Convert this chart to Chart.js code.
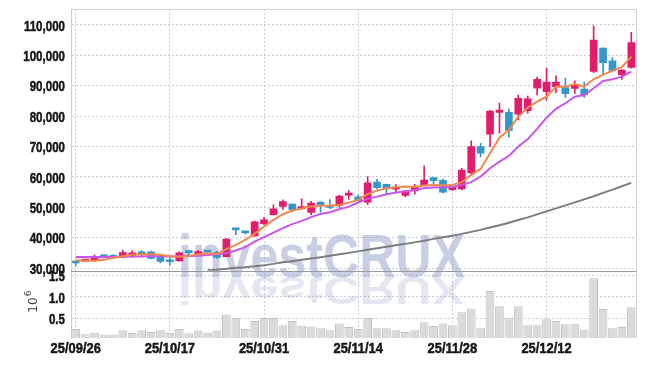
<!DOCTYPE html>
<html>
<head>
<meta charset="utf-8">
<script src="https://cdn.jsdelivr.net/npm/chart.js@4.4.1/dist/chart.umd.min.js"></script>
<style>
  html, body { margin: 0; padding: 0; background: #fff; }
  #wrap { width: 645px; height: 366px; }
</style>
</head>
<body>
<div id="wrap"><canvas id="stockChart" width="645" height="366"></canvas></div>
<script>
// Fechas (días de negociación)
const dates = ['25/09/26','25/09/29','25/09/30','25/10/01','25/10/02','25/10/10','25/10/13','25/10/14','25/10/15','25/10/16',
  '25/10/17','25/10/20','25/10/21','25/10/22','25/10/23','25/10/24','25/10/27','25/10/28','25/10/29','25/10/30',
  '25/10/31','25/11/03','25/11/04','25/11/05','25/11/06','25/11/07','25/11/10','25/11/11','25/11/12','25/11/13',
  '25/11/14','25/11/17','25/11/18','25/11/19','25/11/20','25/11/21','25/11/24','25/11/25','25/11/26','25/11/27',
  '25/11/28','25/12/01','25/12/02','25/12/03','25/12/04','25/12/05','25/12/08','25/12/09','25/12/10','25/12/11',
  '25/12/12','25/12/15','25/12/16','25/12/17','25/12/18','25/12/19','25/12/22','25/12/23','25/12/24','25/12/26'];

const openPrices = [31800,32300,32800,33900,34100,33600,33800,35400,35400,34000,
  32500,32400,35300,34800,35600,35200,33800,43150,42000,40600,
  44600,47600,50300,51100,49600,48300,51700,50600,50600,54000,
  53500,51700,58300,57600,56000,53900,55400,57400,59800,58900,
  55800,56100,61300,70000,74100,81200,81300,80700,81800,89200,
  88100,89700,89400,89100,88900,94700,102400,98200,93600,96000];
const highPrices = [32400,32700,34300,34400,34500,35950,35800,35800,35600,34300,
  33300,35400,35350,35900,35800,35500,39800,43200,42200,45500,
  46700,50800,52450,51200,52800,52000,51800,52600,54000,55500,
  54100,60100,59200,57700,57500,55500,57600,63700,59900,59300,
  57300,62800,71900,71100,81800,84300,82300,86900,86600,92900,
  95800,93300,92500,91600,91200,109700,102500,99300,95300,107600];
const lowPrices = [30800,32100,32300,33300,33300,33400,33500,34100,33000,31700,
  31000,32300,33900,34400,34800,33300,33700,40900,41300,40400,
  44300,47400,49300,48500,49300,47500,48400,49600,50000,52700,
  52000,51000,56000,54100,54700,53400,54300,57200,57200,54700,
  55500,55700,60700,66600,70000,74400,73100,78800,81000,87000,
  85300,87700,86200,87500,86200,94300,93600,94500,92100,95800];
const closePrices = [31700,32500,33600,33750,33600,35100,35000,34500,33200,32200,
  32100,35000,35100,35400,35300,33500,39600,42600,41600,45200,
  45900,49500,51900,49200,50000,51400,50800,50000,53700,54200,
  52200,58100,56500,56100,56700,55400,56600,59000,58800,55000,
  56800,62300,70000,67800,81700,82000,75300,85900,85700,92100,
  91200,91200,87400,90500,87000,105000,97600,94900,95200,104200];

// Medias móviles
const ma5 = [32560,32400,32400,32730,33390,33880,34370,34540,34540,34370,
  33880,33720,34040,34540,34870,34700,36250,37660,39300,41280,
  43680,45880,47750,48940,49600,50250,50490,50580,50810,51570,
  52460,54330,55520,56300,56630,56830,56730,57160,57390,57160,
  57390,58280,60680,62650,67810,72900,75470,79850,82800,84780,
  86420,89710,89710,90600,89710,92140,93560,94970,96090,99580];
const ma10 = [33700,33700,33650,33650,33700,33750,33800,33850,33900,33900,
  33850,33900,34000,34100,34300,34600,34930,35790,36900,38750,
  40190,41700,43150,44470,45550,46770,47850,48410,49400,50250,
  51600,52790,53540,54330,54860,55190,55740,56300,56500,56630,
  56730,57390,58280,60120,62880,65050,66920,70000,72400,75800,
  79500,82400,84250,86420,86980,89180,91580,92140,93000,94640];
const ma60 = [null,null,null,null,null,null,null,null,null,null,
  null,null,null,null,29280,29510,29770,30100,30330,30660,
  30990,31410,31910,32300,32730,33160,33620,34110,34540,35030,
  35520,36080,36580,37070,37560,37990,38480,39040,39630,40130,
  40690,41280,41940,42590,43350,44140,44960,45820,46700,47690,
  48680,49660,50650,51640,52620,53670,54760,55840,56960,58050];

// Volumen (millones)
const volumes = [0.25,0.13,0.17,0.12,0.12,0.22,0.155,0.22,0.18,0.22,
  0.155,0.25,0.15,0.21,0.16,0.21,0.59,0.51,0.25,0.44,
  0.51,0.51,0.34,0.44,0.33,0.31,0.27,0.22,0.38,0.30,
  0.25,0.51,0.27,0.27,0.22,0.18,0.22,0.41,0.32,0.38,
  0.34,0.64,0.73,0.27,1.14,0.78,0.50,0.78,0.34,0.34,
  0.48,0.44,0.36,0.38,0.24,1.44,0.72,0.27,0.30,0.76];

const priceTicks = [30000,40000,50000,60000,70000,80000,90000,100000,110000];
const volumeTicks = [0.5,1.0,1.5];

const upColor = '#e21c6a';
const downColor = '#3497c9';
const gridColor = '#c8ccd9';
const labelFont = 'bold 15px "Liberation Sans", sans-serif';

// Marca de agua + reflejo
const watermark = {
  id: 'watermark',
  beforeDatasetsDraw(chart) {
    const c = chart.ctx;
    c.save();
    c.font = 'bold 61px "Liberation Sans", sans-serif';
    const w = c.measureText('investCRUX').width;
    c.translate(178, 277);
    c.scale(287 / w, 1);
    c.textBaseline = 'alphabetic';
    c.fillStyle = 'rgba(155,168,205,0.55)';
    c.fillText('investCRUX', 0, 0);
    c.scale(1, -0.65);
    c.fillStyle = 'rgba(155,168,205,0.27)';
    c.fillText('investCRUX', 0, 0);
    c.restore();
  }
};

// Etiquetas de ejes (letra estrecha)
const axisLabels = {
  id: 'axisLabels',
  afterDraw(chart) {
    const c = chart.ctx;
    const put = (text, x, y, align, sx) => {
      c.save();
      c.translate(x, y);
      c.scale(sx, 1);
      c.textAlign = align;
      c.fillText(text, 0, 0);
      c.strokeText(text, 0, 0);
      c.restore();
    };
    c.save();
    c.fillStyle = '#161616';
    c.strokeStyle = '#161616';
    c.lineWidth = 0.5;
    c.font = labelFont;
    c.textBaseline = 'middle';
    priceTicks.forEach(v => put(v.toLocaleString('en-US'), 65, chart.scales.y.getPixelForValue(v) + 1.5, 'right', 0.77));
    volumeTicks.forEach(v => put(v.toFixed(1), 65, chart.scales.yv.getPixelForValue(v) + 1.5, 'right', 0.77));
    dates.forEach((d, i) => {
      if (i % 10 === 0) put(d, chart.scales.x.getPixelForValue(i), 349, 'center', 0.86);
    });
    c.restore();
  }
};

// Marco y título del volumen
const frame = {
  id: 'frame',
  afterDraw(chart) {
    const c = chart.ctx;
    const a = chart.chartArea;
    const yv = chart.scales.yv;
    c.save();
    c.strokeStyle = '#d2d2d2';
    c.lineWidth = 1;
    c.beginPath();
    c.moveTo(a.left, a.top + 0.5);
    c.lineTo(a.right + 0.5, a.top + 0.5);
    c.lineTo(a.right + 0.5, a.bottom);
    c.stroke();
    c.strokeStyle = '#9a9a9a';
    c.beginPath();
    c.moveTo(a.left, Math.round(yv.top) + 0.5);
    c.lineTo(a.right, Math.round(yv.top) + 0.5);
    c.stroke();

    c.translate(37, 305);
    c.rotate(-Math.PI / 2);
    c.fillStyle = '#444';
    c.textBaseline = 'alphabetic';
    c.textAlign = 'center';
    c.font = '12px "DejaVu Sans", sans-serif';
    c.fillText('10', 0, 0);
    const tw = c.measureText('10').width;
    c.textAlign = 'left';
    c.font = '9px "DejaVu Sans", sans-serif';
    c.fillText('6', tw / 2 + 1, -6);
    c.restore();
  }
};

function initChart() {
  const ctx = document.getElementById('stockChart').getContext('2d');
  const candleColors = closePrices.map((c, i) => c >= openPrices[i] ? upColor : downColor);

  new Chart(ctx, {
    type: 'bar',
    data: {
      labels: dates,
      datasets: [
        { type: 'line', label: 'MA5', data: ma5, yAxisID: 'y', borderColor: '#f0884e', borderWidth: 2, pointRadius: 0, tension: 0, order: 1 },
        { type: 'line', label: 'MA10', data: ma10, yAxisID: 'y', borderColor: '#c956ea', borderWidth: 2, pointRadius: 0, tension: 0, order: 1 },
        { type: 'line', label: 'MA60', data: ma60, yAxisID: 'y', borderColor: '#7d7d7d', borderWidth: 2, pointRadius: 0, tension: 0, order: 1 },
        { label: 'body', data: openPrices.map((o, i) => [o, closePrices[i]]), yAxisID: 'y',
          backgroundColor: candleColors, barThickness: 7, minBarLength: 2, grouped: false, order: 2 },
        { label: 'wick', data: lowPrices.map((l, i) => [l, highPrices[i]]), yAxisID: 'y',
          backgroundColor: candleColors, barThickness: 1, grouped: false, order: 3 },
        { label: 'volume', data: volumes, yAxisID: 'yv', backgroundColor: '#dadada', borderColor: '#c2c2c2',
          borderWidth: 1, barPercentage: 0.93, categoryPercentage: 1, grouped: false, order: 4 }
      ]
    },
    options: {
      responsive: false,
      animation: false,
      events: [],
      layout: { padding: { top: 9, right: 9, left: 0, bottom: 0 } },
      plugins: { legend: { display: false }, tooltip: { enabled: false } },
      scales: {
        x: {
          type: 'category',
          offset: true,
          afterFit: s => { s.height = 28; },
          grid: {
            offset: false,
            drawTicks: false,
            color: c => (c.index % 10 === 0 ? gridColor : 'transparent')
          },
          border: { display: false, dash: [2, 2] },
          ticks: { display: false, autoSkip: false }
        },
        y: {
          position: 'left',
          stack: 'main',
          stackWeight: 3.9,
          weight: 2,
          min: 29110,
          max: 115260,
          afterFit: s => { s.width = 71; },
          afterBuildTicks: s => { s.ticks = priceTicks.map(v => ({ value: v })); },
          grid: { color: gridColor, drawTicks: false },
          border: { color: '#cfcfcf', dash: [2, 2] },
          ticks: { display: false, autoSkip: false }
        },
        yv: {
          position: 'left',
          stack: 'main',
          stackWeight: 1,
          weight: 1,
          min: 0.04,
          max: 1.61,
          afterFit: s => { s.width = 71; },
          afterBuildTicks: s => { s.ticks = volumeTicks.map(v => ({ value: v })); },
          grid: { color: gridColor, drawTicks: false },
          border: { color: '#cfcfcf', dash: [2, 2] },
          ticks: { display: false, autoSkip: false }
        }
      }
    },
    plugins: [watermark, axisLabels, frame]
  });
}

document.addEventListener('DOMContentLoaded', initChart);
</script>
</body>
</html>
